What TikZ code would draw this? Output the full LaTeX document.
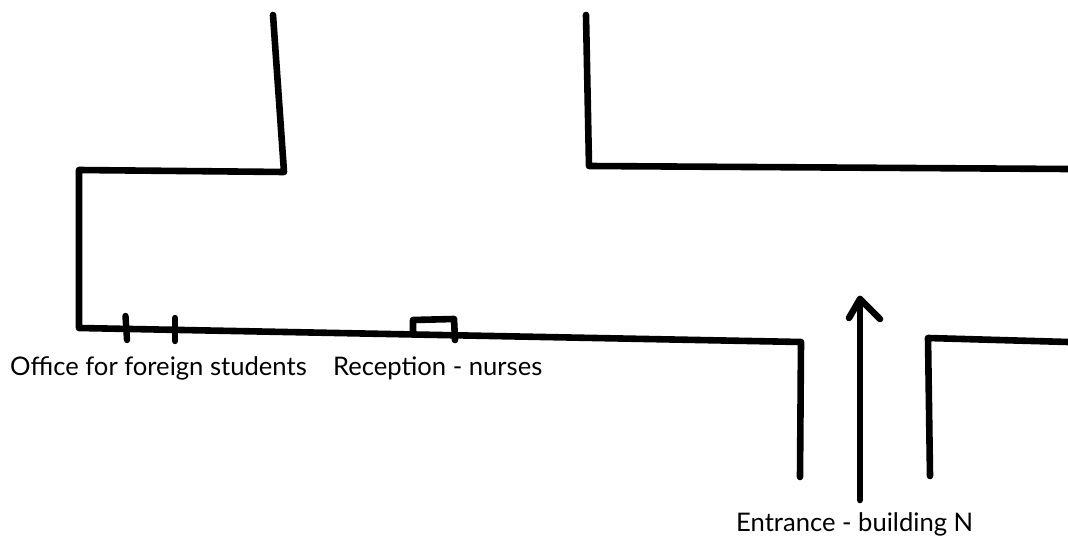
\documentclass[tikz,border=0pt]{standalone}
\usepackage{fontspec}
\setmainfont{Lato}
\begin{document}
\begin{tikzpicture}[x=1pt,y=-1pt,
  wall/.style={line width=6.6pt,line cap=round,line join=round,black},
  tick/.style={line width=6.4pt,line cap=round},
  lab/.style={font=\fontsize{25.6}{28}\selectfont,anchor=base west,inner sep=0pt,text=black}]
\useasboundingbox (0,0) rectangle (1068,540);
\draw[wall] (273,15) -- (284,172) -- (79,170) -- (79,328) -- (801,342) -- (800,477);
\draw[wall] (586,15) -- (589,166) -- (1068,169);
\draw[wall] (930,476) -- (928,338) -- (1068,342);
\draw[tick] (125.5,316) -- (127,340);
\draw[tick] (175,318) -- (175,341);
\draw[wall] (413,333) -- (413,320) -- (454,319) -- (455,340);
\draw[wall] (860,500) -- (860,299);
\draw[wall] (849,318) -- (860,299) -- (880,319);
\node[lab] (a) at (10,375) {Office for foreign students};
\node[lab] (b) at (333,375) {Reception - nurses};
\node[lab] (c) at (736,531) {Entrance - building N};
\end{tikzpicture}
\end{document}
